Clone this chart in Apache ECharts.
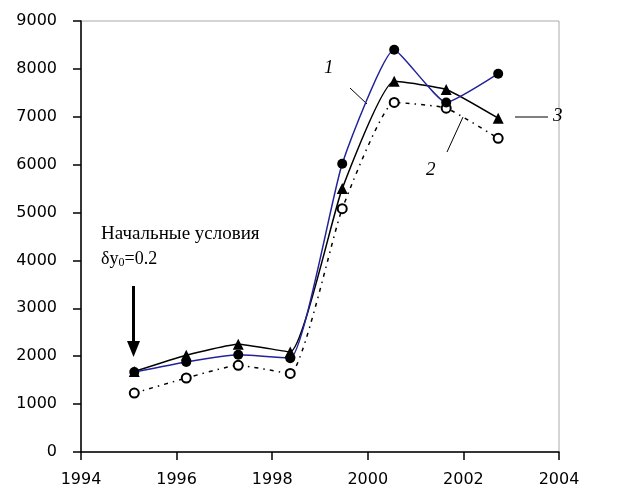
<!DOCTYPE html>
<html><head><meta charset="utf-8">
<script src="https://cdn.jsdelivr.net/npm/echarts@6/dist/echarts.min.js"></script>
<style>html,body{margin:0;padding:0;background:#fff}#c{width:627px;height:495px}</style>
</head><body><div id="c"></div>
<script>
const years = [1995, 1996, 1997, 1998, 1999, 2000, 2001, 2002];
const series1 = [1670, 1880, 2030, 1960, 6020, 8400, 7300, 7900]; // blue, filled circles
const series3 = [1680, 2020, 2250, 2090, 5500, 7740, 7570, 6970]; // black, triangles
const series2 = [1230, 1545, 1810, 1640, 5080, 7300, 7180, 6550]; // dotted, open circles
const xTicks = [1994, 1996, 1998, 2000, 2002, 2004];
const yTicks = [0, 1000, 2000, 3000, 4000, 5000, 6000, 7000, 8000, 9000];

const pair = (ys) => years.map((x, i) => [x, ys[i]]);
const chart = echarts.init(document.getElementById('c'));
const axisFont = {color: '#000', fontFamily: 'DejaVu Sans', fontSize: 16};
chart.setOption({
  animation: false,
  grid: {left: 81, right: 68, top: 21, bottom: 43, show: true, borderColor: '#aaa', borderWidth: 1, backgroundColor: 'transparent'},
  xAxis: [{
    type: 'value', min: xTicks[0], max: xTicks[xTicks.length - 1], interval: 2,
    axisLine: {show: true, lineStyle: {color: '#000', width: 1.5}},
    axisTick: {show: true, length: 8, lineStyle: {color: '#000', width: 1.5}},
    splitLine: {show: false},
    axisLabel: Object.assign({margin: 20, formatter: v => String(v)}, axisFont)
  }, {
    type: 'value', min: 1993.975, max: 2003.17, show: false
  }],
  yAxis: {
    type: 'value', min: yTicks[0], max: yTicks[yTicks.length - 1], interval: 1000,
    axisLine: {show: true, lineStyle: {color: '#000', width: 1.5}},
    axisTick: {show: true, length: 8, lineStyle: {color: '#000', width: 1.5}},
    splitLine: {show: false},
    axisLabel: Object.assign({margin: 24, formatter: v => String(v)}, axisFont)
  },
  series: [
    {type: 'line', xAxisIndex: 1, data: pair(series2), smooth: 0.15, symbol: 'circle', symbolSize: 9,
     lineStyle: {color: '#000', width: 1.5, type: [4, 5, 1.5, 5]},
     itemStyle: {color: '#fff', borderColor: '#000', borderWidth: 2}},
    {type: 'line', xAxisIndex: 1, data: pair(series3), smooth: 0.15, symbol: 'triangle', symbolSize: 11,
     lineStyle: {color: '#000', width: 1.5},
     itemStyle: {color: '#000'}},
    {type: 'line', xAxisIndex: 1, data: pair(series1), smooth: 0.15, symbol: 'circle', symbolSize: 10,
     lineStyle: {color: '#22229a', width: 1.5},
     itemStyle: {color: '#000'}}
  ],
  graphic: [
    {type: 'text', left: 101, top: 225, style: {text: 'Начальные условия', font: '19px "Liberation Serif"', fill: '#000'}},
    {type: 'text', left: 101, top: 250, style: {text: '{a|δy}{s|0}{a|=0.2}', fill: '#000',
      rich: {a: {fontFamily: 'Liberation Serif', fontSize: 18, fill: '#000'}, s: {fontFamily: 'Liberation Serif', fontSize: 12, padding: [8, 0, 0, 0]}}}},
    {type: 'line', shape: {x1: 133.5, y1: 286, x2: 133.5, y2: 344}, style: {stroke: '#000', lineWidth: 3}},
    {type: 'polygon', shape: {points: [[127, 341], [140, 341], [133.5, 357]]}, style: {fill: '#000'}},
    {type: 'text', left: 324, top: 58, style: {text: '1', font: 'italic 19px "Liberation Serif"', fill: '#000'}},
    {type: 'line', shape: {x1: 350, y1: 88, x2: 367, y2: 104}, style: {stroke: '#000', lineWidth: 1}},
    {type: 'text', left: 426, top: 160, style: {text: '2', font: 'italic 19px "Liberation Serif"', fill: '#000'}},
    {type: 'line', shape: {x1: 447, y1: 152, x2: 463, y2: 117}, style: {stroke: '#000', lineWidth: 1}},
    {type: 'text', left: 553, top: 106, style: {text: '3', font: 'italic 19px "Liberation Serif"', fill: '#000'}},
    {type: 'line', shape: {x1: 515, y1: 117, x2: 548, y2: 117}, style: {stroke: '#000', lineWidth: 1}}
  ]
});
</script></body></html>
